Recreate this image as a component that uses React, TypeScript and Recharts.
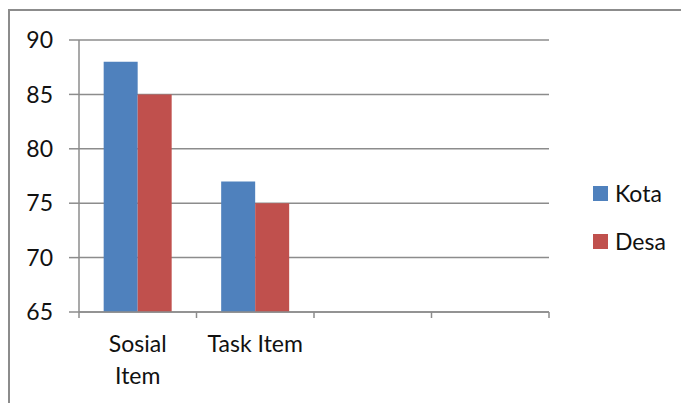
import React from 'react';
import { BarChart, Bar, XAxis, YAxis, CartesianGrid } from 'recharts';

const categories = ['Sosial Item', 'Task Item', '', ''];
const tickLines = [['Sosial', 'Item'], ['Task Item'], [], []];
const kota = [88, 77, null, null];
const desa = [85, 75, null, null];
const yTicks = [65, 70, 75, 80, 85, 90];
const edgeTicks = [0, 1, 2, 3, 4];
const series = [
  { key: 'Kota', values: kota, color: '#4F81BD' },
  { key: 'Desa', values: desa, color: '#C0504D' },
];

const FONT = 'Lato, "Open Sans", sans-serif';
const GRID = '#8c8c8c';

const data = categories.map((name, i) => {
  const row: any = { name, pos: i + 0.5 };
  series.forEach((s) => {
    row[s.key] = s.values[i];
  });
  return row;
});

const CategoryTick = (props: any) => {
  const { x, y, index } = props;
  const lines = tickLines[index] || [];
  if (!lines.length) return null;
  return (
    <text x={x} y={y - 1} textAnchor="middle" fill="#111" style={{ fontFamily: FONT, fontSize: 23 }}>
      {lines.map((l, i) => (
        <tspan key={i} x={x} dy={32}>
          {l}
        </tspan>
      ))}
    </text>
  );
};

export default function App() {
  return (
    <div
      style={{
        position: 'fixed',
        left: 8,
        top: 9,
        width: 673,
        height: 394,
        borderTop: `2px solid ${GRID}`,
        borderLeft: `2px solid ${GRID}`,
        background: '#fff',
        fontFamily: FONT,
      }}
    >
      <BarChart
        width={671}
        height={392}
        data={data}
        margin={{ top: 29, right: 132, bottom: 30, left: 0 }}
        barCategoryGap="21%"
        barGap={0}
      >
        <CartesianGrid xAxisId={1} vertical={false} stroke={GRID} strokeWidth={1.5} />
        {/* boundary ticks between categories */}
        <XAxis
          xAxisId={0}
          dataKey="pos"
          type="number"
          domain={[0, 4]}
          ticks={edgeTicks}
          tickFormatter={() => ''}
          tickSize={6}
          height={1}
          allowDataOverflow
          axisLine={{ stroke: GRID, strokeWidth: 1.5 }}
          tickLine={{ stroke: GRID, strokeWidth: 1.5 }}
        />
        <XAxis
          xAxisId={1}
          dataKey="name"
          axisLine={false}
          tickLine={false}
          height={60}
          tick={<CategoryTick />}
          interval={0}
        />
        <YAxis
          width={69}
          domain={[65, 90]}
          ticks={yTicks}
          tickSize={10}
          tickMargin={16}
          axisLine={{ stroke: GRID, strokeWidth: 1.5 }}
          tickLine={{ stroke: GRID, strokeWidth: 1.5 }}
          tick={{ fill: '#111', fontSize: 23, fontFamily: FONT }}
        />
        {series.map((s) => (
          <Bar key={s.key} xAxisId={1} dataKey={s.key} fill={s.color} isAnimationActive={false} />
        ))}
      </BarChart>
      <div style={{ position: 'absolute', left: 583, top: 158 }}>
        {series.map((s) => (
          <div
            key={s.key}
            style={{ display: 'flex', alignItems: 'center', height: 48, fontSize: 23, color: '#111' }}
          >
            <span style={{ width: 15, height: 15, background: s.color, marginRight: 7 }} />
            {s.key}
          </div>
        ))}
      </div>
    </div>
  );
}
